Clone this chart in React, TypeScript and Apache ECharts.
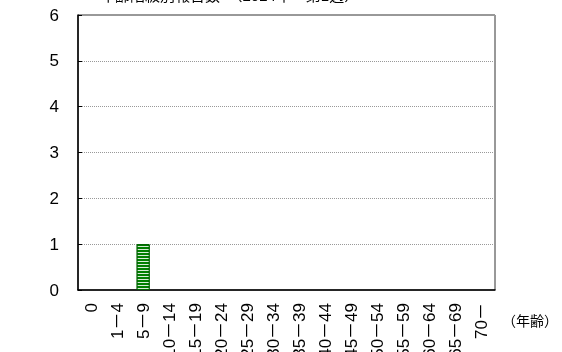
import React, { useEffect, useRef } from "react";
import * as echarts from "echarts";

const categories = ["0", "1－4", "5－9", "10－14", "15－19", "20－24", "25－29", "30－34", "35－39", "40－44", "45－49", "50－54", "55－59", "60－64", "65－69", "70－"];
const values = [0, 0, 1, 0, 0, 0, 0, 0, 0, 0, 0, 0, 0, 0, 0, 0];
const yTicks = { min: 0, max: 6, interval: 1 };
const axisName = "（年齢）";
const titleText = "年齢階級別報告数　（2024年　第1週）";

const FONT = "'Liberation Sans', Arial, 'Noto Sans CJK JP', sans-serif";

export default function App() {
  const ref = useRef<HTMLDivElement>(null);
  useEffect(() => {
    if (!ref.current) return;
    const chart = echarts.init(ref.current, null, { renderer: "svg" });
    chart.setOption({
      animation: false,
      textStyle: { fontFamily: FONT },
      grid: {
        left: 78, right: 67, top: 15, bottom: 62,
        show: true, borderColor: "#333", borderWidth: 1,
        containLabel: false, outerBoundsMode: "none",
      },
      graphic: [
        { type: "text", left: 100, top: -12, style: { text: titleText, font: `15px ${FONT}`, fill: "#000" } },
        { type: "text", left: 502, top: 314, style: { text: axisName, font: `14px ${FONT}`, fill: "#000" } },
      ],
      xAxis: {
        type: "category",
        data: categories,
        boundaryGap: true,
        axisLine: { lineStyle: { color: "#000", width: 1.5 } },
        axisTick: { inside: true, length: 5, lineStyle: { color: "#333" } },
        axisLabel: { rotate: 90, interval: 0, fontSize: 17, color: "#000", margin: 13, fontFamily: FONT, hideOverlap: false },
        splitLine: { show: false },
      },
      yAxis: {
        type: "value",
        min: yTicks.min, max: yTicks.max, interval: yTicks.interval,
        axisLine: { show: true, lineStyle: { color: "#000", width: 1.5 } },
        axisTick: { show: true, inside: true, length: 4, lineStyle: { color: "#000" } },
        axisLabel: { fontSize: 17, color: "#000", margin: 19, fontFamily: FONT },
        splitLine: { show: true, lineStyle: { color: "#999", type: [1, 1], width: 1 } },
      },
      series: [
        {
          type: "bar",
          data: values.map((v) => (v === 0 ? { value: v, itemStyle: { borderWidth: 0 } } : v)),
          barWidth: "50%",
          itemStyle: {
            color: "#008000",
            borderColor: "#006400",
            borderWidth: 1,
            decal: {
              symbol: "rect",
              color: "rgba(255,255,255,0.85)",
              dashArrayX: [1, 0],
              dashArrayY: [1, 2],
              rotation: 0,
              symbolSize: 1,
            },
          },
        },
      ],
    });
    return () => chart.dispose();
  }, []);
  return (
    <div style={{ position: "fixed", left: 0, top: 0 }}>
      <div ref={ref} style={{ width: 562, height: 352 }} />
    </div>
  );
}
